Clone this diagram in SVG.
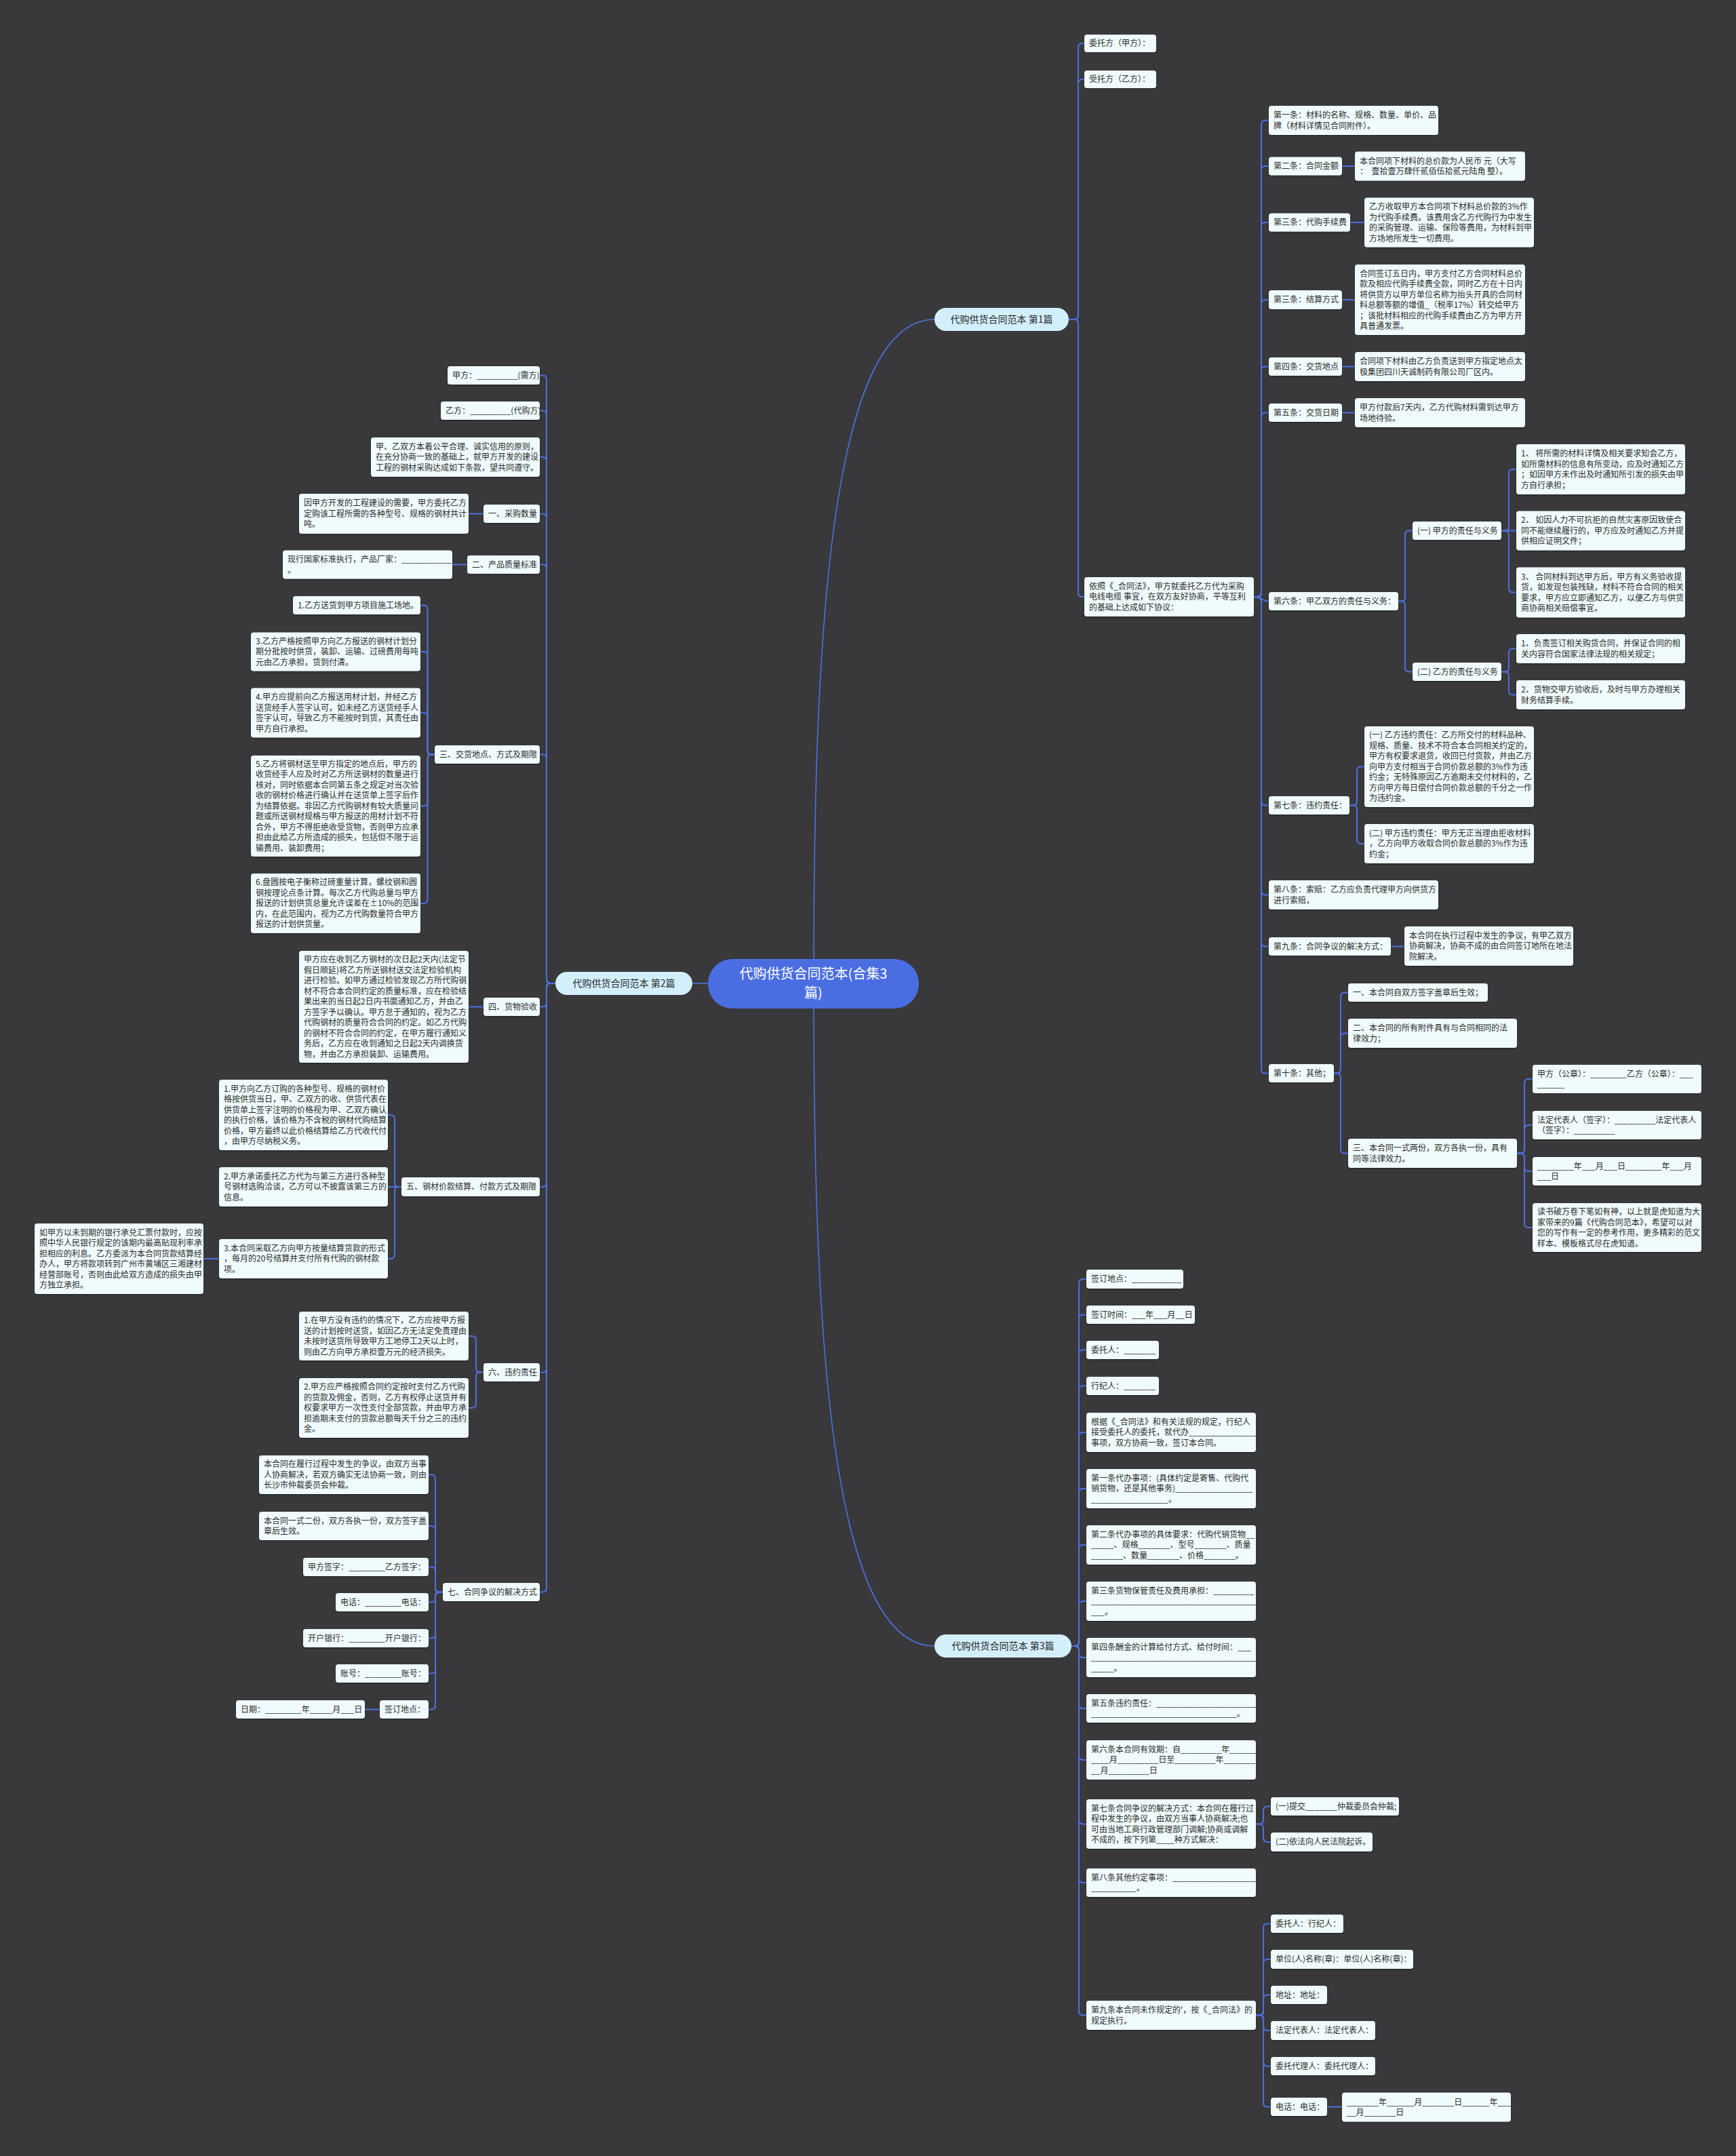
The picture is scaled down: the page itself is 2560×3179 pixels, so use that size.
<svg xmlns="http://www.w3.org/2000/svg" width="2560" height="3179" viewBox="0 0 2560 3179">
<defs>
<filter id="sh" x="-5%" y="-10%" width="110%" height="130%"><feDropShadow dx="0" dy="1" stdDeviation="1" flood-color="#000" flood-opacity="0.45"/></filter>
<style>
text{font-family:"Noto Sans CJK SC","Noto Sans",sans-serif;font-size:12px;fill:#2b2b2b;white-space:pre}
.node rect{fill:#f0fbfd;filter:url(#sh)}
.pill rect{fill:#d3effb}
.pill text{font-size:14px;text-anchor:middle;fill:#2a2a2a}
.root rect{fill:#4a6ee2}
.root text{font-size:20px;text-anchor:middle;fill:#ffffff}
.edge path{fill:none;stroke:#4f6fe0;stroke-width:2}
.edge path.main{stroke-width:1.6}
</style>
</defs>
<rect width="2560" height="3179" fill="#39393b"/>

<g class="edge" id="connectors">
<path class="main" d="M1200 1450 C1200 1000 1215 471 1378 471"/>
<path class="main" d="M1200 1450 C1200 1900 1215 2427 1378 2427"/>
<path class="main" d="M1044 1450 H1021"/>
<!-- branch 1 -->
<path d="M1576 471 H1584 Q1590 471 1590 465 V70 Q1590 64 1596 64 H1599"/>
<path d="M1576 471 H1584 Q1590 471 1590 465 V123 Q1590 117 1596 117 H1599"/>
<path d="M1576 471 H1584 Q1590 471 1590 477 V874 Q1590 880 1596 880 H1599"/>
<path d="M1849 880 H1854 Q1860 880 1860 874 V183.5 Q1860 177.5 1866 177.5 H1871"/>
<path d="M1849 880 H1854 Q1860 880 1860 874 V251 Q1860 245 1866 245 H1871"/>
<path d="M1849 880 H1854 Q1860 880 1860 874 V334 Q1860 328 1866 328 H1871"/>
<path d="M1849 880 H1854 Q1860 880 1860 874 V448 Q1860 442 1866 442 H1871"/>
<path d="M1849 880 H1854 Q1860 880 1860 874 V546.5 Q1860 540.5 1866 540.5 H1871"/>
<path d="M1849 880 H1854 Q1860 880 1860 874 V614.5 Q1860 608.5 1866 608.5 H1871"/>
<path d="M1849 880 C1860 880 1860 886.5 1871 886.5"/>
<path d="M1849 880 H1854 Q1860 880 1860 886 V1181.5 Q1860 1187.5 1866 1187.5 H1871"/>
<path d="M1849 880 H1854 Q1860 880 1860 886 V1313.5 Q1860 1319.5 1866 1319.5 H1871"/>
<path d="M1849 880 H1854 Q1860 880 1860 886 V1389.5 Q1860 1395.5 1866 1395.5 H1871"/>
<path d="M1849 880 H1854 Q1860 880 1860 886 V1576.5 Q1860 1582.5 1866 1582.5 H1871"/>
<path d="M1979 245 H1998"/>
<path d="M1991 328 H2012"/>
<path d="M1979 442 H1998"/>
<path d="M1979 540.5 H1998"/>
<path d="M1979 608.5 H1998"/>
<path d="M2062 886.5 H2066 Q2072 886.5 2072 880.5 V788.5 Q2072 782.5 2078 782.5 H2083"/>
<path d="M2062 886.5 H2066 Q2072 886.5 2072 892.5 V984.5 Q2072 990.5 2078 990.5 H2083"/>
<path d="M2214 782.5 H2219 Q2225 782.5 2225 776.5 V698 Q2225 692 2231 692 H2236"/>
<path d="M2214 782.5 H2236"/>
<path d="M2214 782.5 H2219 Q2225 782.5 2225 788.5 V867.5 Q2225 873.5 2231 873.5 H2236"/>
<path d="M2214 990.5 H2219 Q2225 990.5 2225 984.5 V962.5 Q2225 956.5 2231 956.5 H2236"/>
<path d="M2214 990.5 H2219 Q2225 990.5 2225 996.5 V1018.5 Q2225 1024.5 2231 1024.5 H2236"/>
<path d="M1990 1187.5 H1995 Q2001 1187.5 2001 1181.5 V1136.5 Q2001 1130.5 2007 1130.5 H2012"/>
<path d="M1990 1187.5 H1995 Q2001 1187.5 2001 1193.5 V1238 Q2001 1244 2007 1244 H2012"/>
<path d="M2051 1395.5 H2071"/>
<path d="M1967 1582.5 H1971 Q1977 1582.5 1977 1576.5 V1469.5 Q1977 1463.5 1983 1463.5 H1988"/>
<path d="M1967 1582.5 H1971 Q1977 1582.5 1977 1576.5 V1529.5 Q1977 1523.5 1983 1523.5 H1988"/>
<path d="M1967 1582.5 H1971 Q1977 1582.5 1977 1588.5 V1694.5 Q1977 1700.5 1983 1700.5 H1988"/>
<path d="M2237 1700.5 H2242 Q2248 1700.5 2248 1694.5 V1597 Q2248 1591 2254 1591 H2260"/>
<path d="M2237 1700.5 H2242 Q2248 1700.5 2248 1694.5 V1665 Q2248 1659 2254 1659 H2260"/>
<path d="M2237 1700.5 H2242 Q2248 1700.5 2248 1706.5 V1721 Q2248 1727 2254 1727 H2260"/>
<path d="M2237 1700.5 H2242 Q2248 1700.5 2248 1706.5 V1804 Q2248 1810 2254 1810 H2260"/>
<!-- branch 2 -->
<path d="M819 1450 H812 Q806 1450 806 1444 V559.5 Q806 553.5 800 553.5 H796"/>
<path d="M819 1450 H812 Q806 1450 806 1444 V611.5 Q806 605.5 800 605.5 H796"/>
<path d="M819 1450 H812 Q806 1450 806 1444 V680 Q806 674 800 674 H796"/>
<path d="M819 1450 H812 Q806 1450 806 1444 V763.5 Q806 757.5 800 757.5 H796"/>
<path d="M819 1450 H812 Q806 1450 806 1444 V838.5 Q806 832.5 800 832.5 H796"/>
<path d="M819 1450 H812 Q806 1450 806 1444 V1118.5 Q806 1112.5 800 1112.5 H796"/>
<path d="M819 1450 H812 Q806 1450 806 1456 V1478.5 Q806 1484.5 800 1484.5 H796"/>
<path d="M819 1450 H812 Q806 1450 806 1456 V1744 Q806 1750 800 1750 H796"/>
<path d="M819 1450 H812 Q806 1450 806 1456 V2017.5 Q806 2023.5 800 2023.5 H796"/>
<path d="M819 1450 H812 Q806 1450 806 1456 V2341.5 Q806 2347.5 800 2347.5 H796"/>
<path d="M713 757.5 H691"/>
<path d="M689 832.5 H667"/>
<path d="M641 1112.5 H636.5 Q630.5 1112.5 630.5 1106.5 V898.5 Q630.5 892.5 624.5 892.5 H620"/>
<path d="M641 1112.5 H636.5 Q630.5 1112.5 630.5 1106.5 V967 Q630.5 961 624.5 961 H620"/>
<path d="M641 1112.5 H636.5 Q630.5 1112.5 630.5 1106.5 V1057 Q630.5 1051 624.5 1051 H620"/>
<path d="M641 1112.5 H636.5 Q630.5 1112.5 630.5 1118.5 V1182.5 Q630.5 1188.5 624.5 1188.5 H620"/>
<path d="M641 1112.5 H636.5 Q630.5 1112.5 630.5 1118.5 V1326 Q630.5 1332 624.5 1332 H620"/>
<path d="M713 1484.5 H691"/>
<path d="M592 1750 H588 Q582 1750 582 1744 V1650 Q582 1644 576 1644 H572"/>
<path d="M592 1750 H572"/>
<path d="M592 1750 H588 Q582 1750 582 1756 V1850 Q582 1856 576 1856 H572"/>
<path d="M323 1856 H300"/>
<path d="M713 2023.5 H708 Q702 2023.5 702 2017.5 V1976 Q702 1970 696 1970 H691"/>
<path d="M713 2023.5 H708 Q702 2023.5 702 2029.5 V2070 Q702 2076 696 2076 H691"/>
<path d="M653 2347.5 H648 Q642 2347.5 642 2341.5 V2180.5 Q642 2174.5 636 2174.5 H632"/>
<path d="M653 2347.5 H648 Q642 2347.5 642 2341.5 V2256 Q642 2250 636 2250 H632"/>
<path d="M653 2347.5 H648 Q642 2347.5 642 2341.5 V2316.5 Q642 2310.5 636 2310.5 H632"/>
<path d="M653 2347.5 H648 Q642 2347.5 642 2353.5 V2356.5 Q642 2362.5 636 2362.5 H632"/>
<path d="M653 2347.5 H648 Q642 2347.5 642 2353.5 V2409.5 Q642 2415.5 636 2415.5 H632"/>
<path d="M653 2347.5 H648 Q642 2347.5 642 2353.5 V2461.5 Q642 2467.5 636 2467.5 H632"/>
<path d="M653 2347.5 H648 Q642 2347.5 642 2353.5 V2514.5 Q642 2520.5 636 2520.5 H632"/>
<path d="M560 2520.5 H538"/>
<!-- branch 3 -->
<path d="M1580 2427 H1585 Q1591 2427 1591 2421 V1892 Q1591 1886 1597 1886 H1602"/>
<path d="M1580 2427 H1585 Q1591 2427 1591 2421 V1944.5 Q1591 1938.5 1597 1938.5 H1602"/>
<path d="M1580 2427 H1585 Q1591 2427 1591 2421 V1996.5 Q1591 1990.5 1597 1990.5 H1602"/>
<path d="M1580 2427 H1585 Q1591 2427 1591 2421 V2049.5 Q1591 2043.5 1597 2043.5 H1602"/>
<path d="M1580 2427 H1585 Q1591 2427 1591 2421 V2118 Q1591 2112 1597 2112 H1602"/>
<path d="M1580 2427 H1585 Q1591 2427 1591 2421 V2201 Q1591 2195 1597 2195 H1602"/>
<path d="M1580 2427 H1585 Q1591 2427 1591 2421 V2284 Q1591 2278 1597 2278 H1602"/>
<path d="M1580 2427 H1585 Q1591 2427 1591 2421 V2367 Q1591 2361 1597 2361 H1602"/>
<path d="M1580 2427 H1585 Q1591 2427 1591 2433 V2438 Q1591 2444 1597 2444 H1602"/>
<path d="M1580 2427 H1585 Q1591 2427 1591 2433 V2513 Q1591 2519 1597 2519 H1602"/>
<path d="M1580 2427 H1585 Q1591 2427 1591 2433 V2589 Q1591 2595 1597 2595 H1602"/>
<path d="M1580 2427 H1585 Q1591 2427 1591 2433 V2683.5 Q1591 2689.5 1597 2689.5 H1602"/>
<path d="M1580 2427 H1585 Q1591 2427 1591 2433 V2770 Q1591 2776 1597 2776 H1602"/>
<path d="M1580 2427 H1585 Q1591 2427 1591 2433 V2965.5 Q1591 2971.5 1597 2971.5 H1602"/>
<path d="M1852 2689.5 H1857 Q1863 2689.5 1863 2683.5 V2669.5 Q1863 2663.5 1869 2663.5 H1874"/>
<path d="M1852 2689.5 H1857 Q1863 2689.5 1863 2695.5 V2710 Q1863 2716 1869 2716 H1874"/>
<path d="M1852 2971.5 H1857 Q1863 2971.5 1863 2965.5 V2842.5 Q1863 2836.5 1869 2836.5 H1874"/>
<path d="M1852 2971.5 H1857 Q1863 2971.5 1863 2965.5 V2895 Q1863 2889 1869 2889 H1874"/>
<path d="M1852 2971.5 H1857 Q1863 2971.5 1863 2965.5 V2947.5 Q1863 2941.5 1869 2941.5 H1874"/>
<path d="M1852 2971.5 H1857 Q1863 2971.5 1863 2977.5 V2988 Q1863 2994 1869 2994 H1874"/>
<path d="M1852 2971.5 H1857 Q1863 2971.5 1863 2977.5 V3040.5 Q1863 3046.5 1869 3046.5 H1874"/>
<path d="M1852 2971.5 H1857 Q1863 2971.5 1863 2977.5 V3100.5 Q1863 3106.5 1869 3106.5 H1874"/>
<path d="M1957 3106.5 H1979"/>
</g>

<!-- root and main branches -->
<g id="root" class="root"><rect x="1044" y="1414" width="311" height="73" rx="36"/><text x="1199.5" y="1443"><tspan x="1199.5" dy="0">代购供货合同范本(合集3</tspan><tspan x="1199.5" dy="28">篇)</tspan></text></g>
<g id="b1" class="pill"><rect x="1378" y="454" width="198" height="34" rx="17"/><text x="1477" y="476">代购供货合同范本 第1篇</text></g>
<g id="b2" class="pill"><rect x="819" y="1433" width="202" height="34" rx="17"/><text x="920" y="1455">代购供货合同范本 第2篇</text></g>
<g id="b3" class="pill"><rect x="1378" y="2410" width="202" height="34" rx="17"/><text x="1479" y="2432">代购供货合同范本 第3篇</text></g>

<!-- branch 1 nodes -->
<g id="n1-1" class="node"><rect x="1599" y="51" width="106" height="26" rx="4"/><text x="1606" y="68.3">委托方（甲方）：</text></g>
<g id="n1-2" class="node"><rect x="1599" y="104" width="106" height="26" rx="4"/><text x="1606" y="121.3">受托方（乙方）：</text></g>
<g id="n1-3" class="node"><rect x="1599" y="851" width="250" height="58" rx="4"/><text x="1606" y="868.8"><tspan x="1606" dy="0">依照《_合同法》，甲方就委托乙方代为采购</tspan><tspan x="1606" dy="15.5">电线电缆 事宜，在双方友好协商，平等互利</tspan><tspan x="1606" dy="15.5">的基础上达成如下协议：</tspan></text></g>
<g id="c1" class="node"><rect x="1871" y="156" width="250" height="43" rx="4"/><text x="1878" y="174.05"><tspan x="1878" dy="0">第一条：材料的名称、规格、数量、单价、品</tspan><tspan x="1878" dy="15.5">牌（材料详情见合同附件）。</tspan></text></g>
<g id="c2" class="node"><rect x="1871" y="231.5" width="108" height="27" rx="4"/><text x="1878" y="249.3">第二条：合同金额</text></g>
<g id="c2a" class="node"><rect x="1998" y="223.5" width="251" height="43" rx="4"/><text x="2005" y="241.55"><tspan x="2005" dy="0">本合同项下材料的总价款为人民币 元（大写</tspan><tspan x="2005" dy="15.5">：  壹拾壹万肆仟贰佰伍拾贰元陆角 整）。</tspan></text></g>
<g id="c3" class="node"><rect x="1871" y="314.5" width="120" height="27" rx="4"/><text x="1878" y="332.3">第三条：代购手续费</text></g>
<g id="c3a" class="node"><rect x="2012" y="291.5" width="250" height="73" rx="4"/><text x="2019" y="309.05"><tspan x="2019" dy="0">乙方收取甲方本合同项下材料总价款的3%作</tspan><tspan x="2019" dy="15.5">为代购手续费。该费用含乙方代购行为中发生</tspan><tspan x="2019" dy="15.5">的采购管理、运输、保险等费用，为材料到甲</tspan><tspan x="2019" dy="15.5">方场地所发生一切费用。</tspan></text></g>
<g id="c4" class="node"><rect x="1871" y="428" width="108" height="28" rx="4"/><text x="1878" y="446.3">第三条：结算方式</text></g>
<g id="c4a" class="node"><rect x="1998" y="390" width="251" height="104" rx="4"/><text x="2005" y="407.55"><tspan x="2005" dy="0">合同签订五日内，甲方支付乙方合同材料总价</tspan><tspan x="2005" dy="15.5">款及相应代购手续费全款，同时乙方在十日内</tspan><tspan x="2005" dy="15.5">将供货方以甲方单位名称为抬头开具的合同材</tspan><tspan x="2005" dy="15.5">料总额等额的增值_（税率17%）转交给甲方</tspan><tspan x="2005" dy="15.5">；该批材料相应的代购手续费由乙方为甲方开</tspan><tspan x="2005" dy="15.5">具普通发票。</tspan></text></g>
<g id="c5" class="node"><rect x="1871" y="527" width="108" height="27" rx="4"/><text x="1878" y="544.8">第四条：交货地点</text></g>
<g id="c5a" class="node"><rect x="1998" y="519" width="251" height="43" rx="4"/><text x="2005" y="537.05"><tspan x="2005" dy="0">合同项下材料由乙方负责送到甲方指定地点太</tspan><tspan x="2005" dy="15.5">极集团四川天诚制药有限公司厂区内。</tspan></text></g>
<g id="c6" class="node"><rect x="1871" y="595" width="108" height="27" rx="4"/><text x="1878" y="612.8">第五条：交货日期</text></g>
<g id="c6a" class="node"><rect x="1998" y="587" width="251" height="43" rx="4"/><text x="2005" y="605.05"><tspan x="2005" dy="0">甲方付款后7天内，乙方代购材料需到达甲方</tspan><tspan x="2005" dy="15.5">场地待验。</tspan></text></g>
<g id="c7" class="node"><rect x="1871" y="873" width="191" height="27" rx="4"/><text x="1878" y="890.8">第六条：甲乙双方的责任与义务：</text></g>
<g id="c7a" class="node"><rect x="2083" y="769" width="131" height="27" rx="4"/><text x="2090" y="786.8">(一) 甲方的责任与义务</text></g>
<g id="c7a1" class="node"><rect x="2236" y="655" width="249" height="74" rx="4"/><text x="2243" y="673.05"><tspan x="2243" dy="0">1、 将所需的材料详情及相关要求知会乙方，</tspan><tspan x="2243" dy="15.5">如所需材料的信息有所变动，应及时通知乙方</tspan><tspan x="2243" dy="15.5">；如因甲方未作出及时通知所引发的损失由甲</tspan><tspan x="2243" dy="15.5">方自行承担；</tspan></text></g>
<g id="c7a2" class="node"><rect x="2236" y="753.5" width="249" height="58" rx="4"/><text x="2243" y="771.3"><tspan x="2243" dy="0">2、 如因人力不可抗拒的自然灾害原因致使合</tspan><tspan x="2243" dy="15.5">同不能继续履行的，甲方应及时通知乙方并提</tspan><tspan x="2243" dy="15.5">供相应证明文件；</tspan></text></g>
<g id="c7a3" class="node"><rect x="2236" y="836.5" width="249" height="74" rx="4"/><text x="2243" y="854.55"><tspan x="2243" dy="0">3、 合同材料到达甲方后，甲方有义务验收提</tspan><tspan x="2243" dy="15.5">货，如发现包装残缺，材料不符合合同的相关</tspan><tspan x="2243" dy="15.5">要求，甲方应立即通知乙方，以便乙方与供货</tspan><tspan x="2243" dy="15.5">商协商相关赔偿事宜。</tspan></text></g>
<g id="c7b" class="node"><rect x="2083" y="977" width="131" height="27" rx="4"/><text x="2090" y="994.8">(二) 乙方的责任与义务</text></g>
<g id="c7b1" class="node"><rect x="2236" y="935" width="249" height="43" rx="4"/><text x="2243" y="953.05"><tspan x="2243" dy="0">1、负责签订相关购货合同，并保证合同的相</tspan><tspan x="2243" dy="15.5">关内容符合国家法律法规的相关规定；</tspan></text></g>
<g id="c7b2" class="node"><rect x="2236" y="1003" width="249" height="43" rx="4"/><text x="2243" y="1021.05"><tspan x="2243" dy="0">2、货物交甲方验收后，及时与甲方办理相关</tspan><tspan x="2243" dy="15.5">财务结算手续。</tspan></text></g>
<g id="c8" class="node"><rect x="1871" y="1174" width="119" height="27" rx="4"/><text x="1878" y="1191.8">第七条：违约责任：</text></g>
<g id="c8a" class="node"><rect x="2012" y="1071" width="250" height="119" rx="4"/><text x="2019" y="1088.3"><tspan x="2019" dy="0">(一) 乙方违约责任：乙方所交付的材料品种、</tspan><tspan x="2019" dy="15.5">规格、质量、技术不符合本合同相关约定的，</tspan><tspan x="2019" dy="15.5">甲方有权要求退货，收回已付货款，并由乙方</tspan><tspan x="2019" dy="15.5">向甲方支付相当于合同价款总额的3%作为违</tspan><tspan x="2019" dy="15.5">约金；无特殊原因乙方逾期未交付材料的，乙</tspan><tspan x="2019" dy="15.5">方向甲方每日偿付合同价款总额的千分之一作</tspan><tspan x="2019" dy="15.5">为违约金。</tspan></text></g>
<g id="c8b" class="node"><rect x="2012" y="1215" width="250" height="58" rx="4"/><text x="2019" y="1232.8"><tspan x="2019" dy="0">(二) 甲方违约责任：甲方无正当理由拒收材料</tspan><tspan x="2019" dy="15.5">，乙方向甲方收取合同价款总额的3%作为违</tspan><tspan x="2019" dy="15.5">约金；</tspan></text></g>
<g id="c9" class="node"><rect x="1871" y="1298" width="250" height="43" rx="4"/><text x="1878" y="1316.05"><tspan x="1878" dy="0">第八条：索赔：乙方应负责代理甲方向供货方</tspan><tspan x="1878" dy="15.5">进行索赔，</tspan></text></g>
<g id="c10" class="node"><rect x="1871" y="1382" width="180" height="27" rx="4"/><text x="1878" y="1399.8">第九条：合同争议的解决方式：</text></g>
<g id="c10a" class="node"><rect x="2071" y="1366" width="249" height="58" rx="4"/><text x="2078" y="1383.8"><tspan x="2078" dy="0">本合同在执行过程中发生的争议，有甲乙双方</tspan><tspan x="2078" dy="15.5">协商解决，协商不成的由合同签订地所在地法</tspan><tspan x="2078" dy="15.5">院解决。</tspan></text></g>
<g id="c11" class="node"><rect x="1871" y="1569" width="96" height="27" rx="4"/><text x="1878" y="1586.8">第十条：其他；</text></g>
<g id="c11a" class="node"><rect x="1988" y="1450" width="206" height="27" rx="4"/><text x="1995" y="1467.8">一、本合同自双方签字盖章后生效；</text></g>
<g id="c11b" class="node"><rect x="1988" y="1502" width="249" height="43" rx="4"/><text x="1995" y="1520.05"><tspan x="1995" dy="0">二、本合同的所有附件具有与合同相同的法</tspan><tspan x="1995" dy="15.5">律效力；</tspan></text></g>
<g id="c11c" class="node"><rect x="1988" y="1679" width="249" height="43" rx="4"/><text x="1995" y="1697.05"><tspan x="1995" dy="0">三、本合同一式两份，双方各执一份，具有</tspan><tspan x="1995" dy="15.5">同等法律效力。</tspan></text></g>
<g id="c11c1" class="node"><rect x="2260" y="1570" width="249" height="42" rx="4"/><text x="2267" y="1587.55"><tspan x="2267" dy="0">甲方（公章）：________乙方（公章）：___</tspan><tspan x="2267" dy="15.5">______</tspan></text></g>
<g id="c11c2" class="node"><rect x="2260" y="1638" width="249" height="42" rx="4"/><text x="2267" y="1655.55"><tspan x="2267" dy="0">法定代表人（签字）：_________法定代表人</tspan><tspan x="2267" dy="15.5">（签字）：_________</tspan></text></g>
<g id="c11c3" class="node"><rect x="2260" y="1706" width="249" height="42" rx="4"/><text x="2267" y="1723.55"><tspan x="2267" dy="0">________年___月___日________年___月</tspan><tspan x="2267" dy="15.5">___日</tspan></text></g>
<g id="c11c4" class="node"><rect x="2260" y="1774" width="249" height="72" rx="4"/><text x="2267" y="1791.05"><tspan x="2267" dy="0">读书破万卷下笔如有神，以上就是虎知道为大</tspan><tspan x="2267" dy="15.5">家带来的9篇《代购合同范本》，希望可以对</tspan><tspan x="2267" dy="15.5">您的写作有一定的参考作用，更多精彩的范文</tspan><tspan x="2267" dy="15.5">样本、模板格式尽在虎知道。</tspan></text></g>

<!-- branch 2 nodes -->
<g id="L1" class="node"><rect x="660" y="540" width="136" height="27" rx="4"/><text x="667" y="557.8">甲方：_________(需方)</text></g>
<g id="L2" class="node"><rect x="650" y="592" width="146" height="27" rx="4"/><text x="657" y="609.8">乙方：_________(代购方)</text></g>
<g id="L3" class="node"><rect x="547" y="645" width="249" height="58" rx="4"/><text x="554" y="662.8"><tspan x="554" dy="0">甲、乙双方本着公平合理、诚实信用的原则，</tspan><tspan x="554" dy="15.5">在充分协商一致的基础上，就甲方开发的建设</tspan><tspan x="554" dy="15.5">工程的钢材采购达成如下条款，望共同遵守。</tspan></text></g>
<g id="L4" class="node"><rect x="713" y="744" width="83" height="27" rx="4"/><text x="720" y="761.8">一、采购数量</text></g>
<g id="L4a" class="node"><rect x="441" y="728" width="250" height="59" rx="4"/><text x="448" y="746.3"><tspan x="448" dy="0">因甲方开发的工程建设的需要，甲方委托乙方</tspan><tspan x="448" dy="15.5">定购该工程所需的各种型号、规格的钢材共计</tspan><tspan x="448" dy="15.5">吨。</tspan></text></g>
<g id="L5" class="node"><rect x="689" y="819" width="107" height="27" rx="4"/><text x="696" y="836.8">二、产品质量标准</text></g>
<g id="L5a" class="node"><rect x="417" y="811.5" width="250" height="42" rx="4"/><text x="424" y="829.05"><tspan x="424" dy="0">现行国家标准执行，产品厂家：___________</tspan><tspan x="424" dy="15.5">。</tspan></text></g>
<g id="L6" class="node"><rect x="641" y="1099" width="155" height="27" rx="4"/><text x="648" y="1116.8">三、交货地点、方式及期限</text></g>
<g id="L6a" class="node"><rect x="432" y="879" width="188" height="27" rx="4"/><text x="439" y="896.8">1.乙方送货到甲方项目施工场地。</text></g>
<g id="L6b" class="node"><rect x="370" y="932.5" width="250" height="57" rx="4"/><text x="377" y="949.8"><tspan x="377" dy="0">3.乙方严格按照甲方向乙方报送的钢材计划分</tspan><tspan x="377" dy="15.5">期分批按时供货，装卸、运输、过磅费用每吨</tspan><tspan x="377" dy="15.5">元由乙方承担，货到付清。</tspan></text></g>
<g id="L6c" class="node"><rect x="370" y="1014.5" width="250" height="73" rx="4"/><text x="377" y="1032.05"><tspan x="377" dy="0">4.甲方应提前向乙方报送用材计划，并经乙方</tspan><tspan x="377" dy="15.5">送货经手人签字认可，如未经乙方送货经手人</tspan><tspan x="377" dy="15.5">签字认可，导致乙方不能按时到货，其责任由</tspan><tspan x="377" dy="15.5">甲方自行承担。</tspan></text></g>
<g id="L6d" class="node"><rect x="370" y="1114" width="250" height="149" rx="4"/><text x="377" y="1130.8"><tspan x="377" dy="0">5.乙方将钢材送至甲方指定的地点后，甲方的</tspan><tspan x="377" dy="15.5">收货经手人应及时对乙方所送钢材的数量进行</tspan><tspan x="377" dy="15.5">核对，同时依据本合同第五条之规定对当次验</tspan><tspan x="377" dy="15.5">收的钢材价格进行确认并在送货单上签字后作</tspan><tspan x="377" dy="15.5">为结算依据。非因乙方代购钢材有较大质量问</tspan><tspan x="377" dy="15.5">题或所送钢材规格与甲方报送的用材计划不符</tspan><tspan x="377" dy="15.5">合外，甲方不得拒绝收受货物，否则甲方应承</tspan><tspan x="377" dy="15.5">担由此给乙方所造成的损失，包括但不限于运</tspan><tspan x="377" dy="15.5">输费用、装卸费用；</tspan></text></g>
<g id="L6e" class="node"><rect x="370" y="1288" width="250" height="88" rx="4"/><text x="377" y="1305.3"><tspan x="377" dy="0">6.盘圆按电子衡称过磅重量计算，螺纹钢和圆</tspan><tspan x="377" dy="15.5">钢按理论点条计算。每次乙方代购总量与甲方</tspan><tspan x="377" dy="15.5">报送的计划供货总量允许误差在±10%的范围</tspan><tspan x="377" dy="15.5">内，在此范围内，视为乙方代购数量符合甲方</tspan><tspan x="377" dy="15.5">报送的计划供货量。</tspan></text></g>
<g id="L7" class="node"><rect x="713" y="1471" width="83" height="27" rx="4"/><text x="720" y="1488.8">四、货物验收</text></g>
<g id="L7a" class="node"><rect x="441" y="1402" width="250" height="165" rx="4"/><text x="448" y="1419.05"><tspan x="448" dy="0">甲方应在收到乙方钢材的次日起2天内(法定节</tspan><tspan x="448" dy="15.5">假日顺延)将乙方所送钢材送交法定检验机构</tspan><tspan x="448" dy="15.5">进行检验。如甲方通过检验发现乙方所代购钢</tspan><tspan x="448" dy="15.5">材不符合本合同约定的质量标准，应在检验结</tspan><tspan x="448" dy="15.5">果出来的当日起2日内书面通知乙方，并由乙</tspan><tspan x="448" dy="15.5">方签字予以确认。甲方怠于通知的，视为乙方</tspan><tspan x="448" dy="15.5">代购钢材的质量符合合同的约定。如乙方代购</tspan><tspan x="448" dy="15.5">的钢材不符合合同的约定，在甲方履行通知义</tspan><tspan x="448" dy="15.5">务后，乙方应在收到通知之日起2天内调换货</tspan><tspan x="448" dy="15.5">物，并由乙方承担装卸、运输费用。</tspan></text></g>
<g id="L8" class="node"><rect x="592" y="1736" width="204" height="28" rx="4"/><text x="599" y="1754.3">五、钢材价款结算、付款方式及期限</text></g>
<g id="L8a" class="node"><rect x="323" y="1592" width="249" height="104" rx="4"/><text x="330" y="1609.55"><tspan x="330" dy="0">1.甲方向乙方订购的各种型号、规格的钢材价</tspan><tspan x="330" dy="15.5">格按供货当日，甲、乙双方的收、供货代表在</tspan><tspan x="330" dy="15.5">供货单上签字注明的价格视为甲、乙双方确认</tspan><tspan x="330" dy="15.5">的执行价格，该价格为不含税的钢材代购结算</tspan><tspan x="330" dy="15.5">价格，甲方最终以此价格结算给乙方代收代付</tspan><tspan x="330" dy="15.5">，由甲方尽纳税义务。</tspan></text></g>
<g id="L8b" class="node"><rect x="323" y="1721" width="249" height="58" rx="4"/><text x="330" y="1738.8"><tspan x="330" dy="0">2.甲方承诺委托乙方代为与第三方进行各种型</tspan><tspan x="330" dy="15.5">号钢材选购洽谈，乙方可以不披露该第三方的</tspan><tspan x="330" dy="15.5">信息。</tspan></text></g>
<g id="L8c" class="node"><rect x="323" y="1827" width="249" height="58" rx="4"/><text x="330" y="1844.8"><tspan x="330" dy="0">3.本合同采取乙方向甲方按量结算货款的形式</tspan><tspan x="330" dy="15.5">，每月的20号结算并支付所有代购的钢材款</tspan><tspan x="330" dy="15.5">项。</tspan></text></g>
<g id="L8c1" class="node"><rect x="51" y="1804" width="249" height="104" rx="4"/><text x="58" y="1821.55"><tspan x="58" dy="0">如甲方以未到期的银行承兑汇票付款时，应按</tspan><tspan x="58" dy="15.5">照中华人民银行规定的该期内最高贴现利率承</tspan><tspan x="58" dy="15.5">担相应的利息。乙方委派为本合同货款结算经</tspan><tspan x="58" dy="15.5">办人，甲方将款项转到广州市黄埔区三湘建材</tspan><tspan x="58" dy="15.5">经营部账号，否则由此给双方造成的损失由甲</tspan><tspan x="58" dy="15.5">方独立承担。</tspan></text></g>
<g id="L9" class="node"><rect x="713" y="2010" width="83" height="27" rx="4"/><text x="720" y="2027.8">六、违约责任</text></g>
<g id="L9a" class="node"><rect x="441" y="1934" width="250" height="72" rx="4"/><text x="448" y="1951.05"><tspan x="448" dy="0">1.在甲方没有违约的情况下，乙方应按甲方报</tspan><tspan x="448" dy="15.5">送的计划按时送货，如因乙方无法定免责理由</tspan><tspan x="448" dy="15.5">未按时送货所导致甲方工地停工2天以上时，</tspan><tspan x="448" dy="15.5">则由乙方向甲方承担壹万元的经济损失。</tspan></text></g>
<g id="L9b" class="node"><rect x="441" y="2032" width="250" height="88" rx="4"/><text x="448" y="2049.3"><tspan x="448" dy="0">2.甲方应严格按照合同约定按时支付乙方代购</tspan><tspan x="448" dy="15.5">的货款及佣金，否则，乙方有权停止送货并有</tspan><tspan x="448" dy="15.5">权要求甲方一次性支付全部货款，并由甲方承</tspan><tspan x="448" dy="15.5">担逾期未支付的货款总额每天千分之三的违约</tspan><tspan x="448" dy="15.5">金。</tspan></text></g>
<g id="L10" class="node"><rect x="653" y="2334" width="143" height="27" rx="4"/><text x="660" y="2351.8">七、合同争议的解决方式</text></g>
<g id="L10a" class="node"><rect x="382" y="2146" width="250" height="57" rx="4"/><text x="389" y="2163.3"><tspan x="389" dy="0">本合同在履行过程中发生的争议，由双方当事</tspan><tspan x="389" dy="15.5">人协商解决，若双方确实无法协商一致，则由</tspan><tspan x="389" dy="15.5">长沙市仲裁委员会仲裁。</tspan></text></g>
<g id="L10b" class="node"><rect x="382" y="2229" width="250" height="42" rx="4"/><text x="389" y="2246.55"><tspan x="389" dy="0">本合同一式二份，双方各执一份，双方签字盖</tspan><tspan x="389" dy="15.5">章后生效。</tspan></text></g>
<g id="L10c" class="node"><rect x="447" y="2297" width="185" height="27" rx="4"/><text x="454" y="2314.8">甲方签字：________乙方签字：</text></g>
<g id="L10d" class="node"><rect x="495" y="2349" width="137" height="27" rx="4"/><text x="502" y="2366.8">电话：________电话：</text></g>
<g id="L10e" class="node"><rect x="447" y="2402" width="185" height="27" rx="4"/><text x="454" y="2419.8">开户银行：________开户银行：</text></g>
<g id="L10f" class="node"><rect x="495" y="2454" width="137" height="27" rx="4"/><text x="502" y="2471.8">账号：________账号：</text></g>
<g id="L10g" class="node"><rect x="560" y="2507" width="72" height="27" rx="4"/><text x="567" y="2524.8">签订地点：</text></g>
<g id="L10g1" class="node"><rect x="348" y="2507" width="190" height="27" rx="4"/><text x="355" y="2524.8">日期：________年_____月___日</text></g>

<!-- branch 3 nodes -->
<g id="R1" class="node"><rect x="1602" y="1872" width="143" height="28" rx="4"/><text x="1609" y="1890.3">签订地点：___________</text></g>
<g id="R2" class="node"><rect x="1602" y="1925" width="160" height="27" rx="4"/><text x="1609" y="1942.8">签订时间：___年___月__日</text></g>
<g id="R3" class="node"><rect x="1602" y="1977" width="107" height="27" rx="4"/><text x="1609" y="1994.8">委托人：_______</text></g>
<g id="R4" class="node"><rect x="1602" y="2030" width="107" height="27" rx="4"/><text x="1609" y="2047.8">行纪人：_______</text></g>
<g id="R5" class="node"><rect x="1602" y="2083" width="250" height="58" rx="4"/><text x="1609" y="2100.8"><tspan x="1609" dy="0">根据《_合同法》和有关法规的规定，行纪人</tspan><tspan x="1609" dy="15.5">接受委托人的委托，就代办_______________</tspan><tspan x="1609" dy="15.5">事项，双方协商一致，签订本合同。</tspan></text></g>
<g id="R6" class="node"><rect x="1602" y="2166" width="250" height="58" rx="4"/><text x="1609" y="2183.8"><tspan x="1609" dy="0">第一条代办事项：(具体约定是寄售、代购代</tspan><tspan x="1609" dy="15.5">销货物，还是其他事务)_________________</tspan><tspan x="1609" dy="15.5">_________________。</tspan></text></g>
<g id="R7" class="node"><rect x="1602" y="2249" width="250" height="58" rx="4"/><text x="1609" y="2266.8"><tspan x="1609" dy="0">第二条代办事项的具体要求：代购代销货物__</tspan><tspan x="1609" dy="15.5">_____、规格_______、型号_______、质量</tspan><tspan x="1609" dy="15.5">_______、数量_______、价格_______。</tspan></text></g>
<g id="R8" class="node"><rect x="1602" y="2332" width="250" height="58" rx="4"/><text x="1609" y="2349.8"><tspan x="1609" dy="0">第三条货物保管责任及费用承担：_________</tspan><tspan x="1609" dy="15.5">_____________________________________</tspan><tspan x="1609" dy="15.5">___。</tspan></text></g>
<g id="R9" class="node"><rect x="1602" y="2415" width="250" height="58" rx="4"/><text x="1609" y="2432.8"><tspan x="1609" dy="0">第四条酬金的计算给付方式、给付时间：___</tspan><tspan x="1609" dy="15.5">_____________________________________</tspan><tspan x="1609" dy="15.5">_____。</tspan></text></g>
<g id="R10" class="node"><rect x="1602" y="2498" width="250" height="42" rx="4"/><text x="1609" y="2515.55"><tspan x="1609" dy="0">第五条违约责任：______________________</tspan><tspan x="1609" dy="15.5">________________________________。</tspan></text></g>
<g id="R11" class="node"><rect x="1602" y="2566" width="250" height="58" rx="4"/><text x="1609" y="2583.8"><tspan x="1609" dy="0">第六条本合同有效期：自_________年______</tspan><tspan x="1609" dy="15.5">____月_________日至_________年_______</tspan><tspan x="1609" dy="15.5">__月_________日</tspan></text></g>
<g id="R12" class="node"><rect x="1602" y="2653" width="250" height="73" rx="4"/><text x="1609" y="2670.55"><tspan x="1609" dy="0">第七条合同争议的解决方式：本合同在履行过</tspan><tspan x="1609" dy="15.5">程中发生的争议，由双方当事人协商解决;也</tspan><tspan x="1609" dy="15.5">可由当地工商行政管理部门调解;协商或调解</tspan><tspan x="1609" dy="15.5">不成的，按下列第____种方式解决：</tspan></text></g>
<g id="R12a" class="node"><rect x="1874" y="2650" width="189" height="27" rx="4"/><text x="1881" y="2667.8">(一)提交_______仲裁委员会仲裁;</text></g>
<g id="R12b" class="node"><rect x="1874" y="2702" width="150" height="28" rx="4"/><text x="1881" y="2720.3">(二)依法向人民法院起诉。</text></g>
<g id="R13" class="node"><rect x="1602" y="2755" width="250" height="42" rx="4"/><text x="1609" y="2772.55"><tspan x="1609" dy="0">第八条其他约定事项：___________________</tspan><tspan x="1609" dy="15.5">__________。</tspan></text></g>
<g id="R14" class="node"><rect x="1602" y="2950" width="250" height="43" rx="4"/><text x="1609" y="2968.05"><tspan x="1609" dy="0">第九条本合同未作规定的'，按《_合同法》的</tspan><tspan x="1609" dy="15.5">规定执行。</tspan></text></g>
<g id="R14a" class="node"><rect x="1874" y="2823" width="107" height="27" rx="4"/><text x="1881" y="2840.8">委托人：行纪人：</text></g>
<g id="R14b" class="node"><rect x="1874" y="2875" width="210" height="28" rx="4"/><text x="1881" y="2893.3">单位(人)名称(章)：单位(人)名称(章)：</text></g>
<g id="R14c" class="node"><rect x="1874" y="2928" width="83" height="27" rx="4"/><text x="1881" y="2945.8">地址：地址：</text></g>
<g id="R14d" class="node"><rect x="1874" y="2980" width="154" height="28" rx="4"/><text x="1881" y="2998.3">法定代表人：法定代表人：</text></g>
<g id="R14e" class="node"><rect x="1874" y="3033" width="154" height="27" rx="4"/><text x="1881" y="3050.8">委托代理人：委托代理人：</text></g>
<g id="R14f" class="node"><rect x="1874" y="3093" width="83" height="27" rx="4"/><text x="1881" y="3110.8">电话：电话：</text></g>
<g id="R14f1" class="node"><rect x="1979" y="3085.5" width="249" height="43" rx="4"/><text x="1986" y="3103.55"><tspan x="1986" dy="0">_______年______月_______日______年____</tspan><tspan x="1986" dy="15.5">__月_______日</tspan></text></g>
</svg>
